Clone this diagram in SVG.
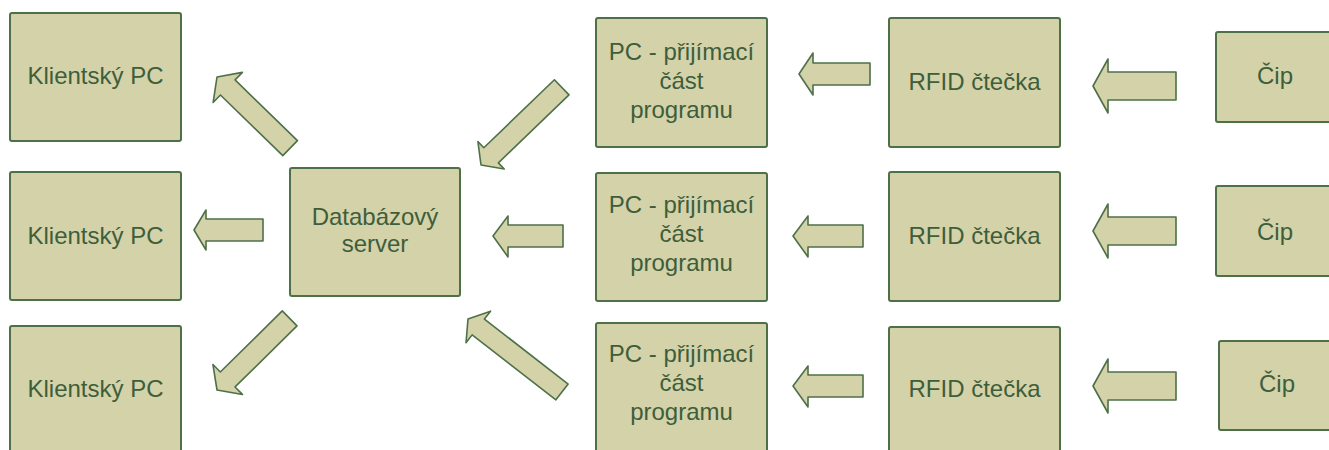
<svg xmlns="http://www.w3.org/2000/svg" width="1329" height="450" viewBox="0 0 1329 450">
<style>
.box{fill:#d4d2a9;stroke:#4e7049;stroke-width:2}
.arr{fill:#d4d2a9;stroke:#4e7049;stroke-width:1.6;stroke-linejoin:round}
text{font-family:"Liberation Sans",Arial,sans-serif;font-size:24px;fill:#3e5e3b;text-anchor:middle}
</style>
<rect width="1329" height="450" fill="#ffffff"/>
<g id="klient1"><rect class="box" x="10" y="13" width="171" height="128" rx="2"/><text x="95.5" y="84">Klientský PC</text></g>
<g id="klient2"><rect class="box" x="10" y="172" width="171" height="128" rx="2"/><text x="95.5" y="244">Klientský PC</text></g>
<g id="klient3"><rect class="box" x="10" y="326" width="171" height="130" rx="2"/><text x="95.5" y="397">Klientský PC</text></g>
<g id="db"><rect class="box" x="290" y="168" width="170" height="128" rx="2"/><text x="375" y="225">Databázový</text><text x="375" y="252">server</text></g>
<g id="pc1"><rect class="box" x="596" y="18" width="171" height="129" rx="2"/><text x="681.5" y="60">PC - přijímací</text><text x="681.5" y="89">část</text><text x="681.5" y="118">programu</text></g>
<g id="pc2"><rect class="box" x="596" y="173" width="171" height="128" rx="2"/><text x="681.5" y="213">PC - přijímací</text><text x="681.5" y="242">část</text><text x="681.5" y="271">programu</text></g>
<g id="pc3"><rect class="box" x="596" y="323" width="171" height="132" rx="2"/><text x="681.5" y="362">PC - přijímací</text><text x="681.5" y="391">část</text><text x="681.5" y="420">programu</text></g>
<g id="rfid1"><rect class="box" x="889" y="18" width="171" height="129" rx="2"/><text x="974.5" y="90">RFID čtečka</text></g>
<g id="rfid2"><rect class="box" x="889" y="172" width="171" height="129" rx="2"/><text x="974.5" y="244">RFID čtečka</text></g>
<g id="rfid3"><rect class="box" x="889" y="327" width="171" height="130" rx="2"/><text x="974.5" y="397">RFID čtečka</text></g>
<g id="cip1"><rect class="box" x="1216" y="32" width="125" height="90" rx="2"/><text x="1275" y="84">Čip</text></g>
<g id="cip2"><rect class="box" x="1216" y="186" width="125" height="90" rx="2"/><text x="1275" y="240">Čip</text></g>
<g id="cip3"><rect class="box" x="1219" y="341" width="125" height="89" rx="2"/><text x="1277" y="392">Čip</text></g>
<g id="connectors">
<polygon class="arr" points="1093,86 1108,59 1108,72 1176,72 1176,100 1108,100 1108,113"/>
<polygon class="arr" points="1093,231 1108,204 1108,217 1176,217 1176,245 1108,245 1108,258"/>
<polygon class="arr" points="1093,386 1108,359 1108,372 1176,372 1176,400 1108,400 1108,413"/>
<polygon class="arr" points="799,74 813,53 813,63 870,63 870,85 813,85 813,95"/>
<polygon class="arr" points="793,236 808,216 808,225 863,225 863,247 808,247 808,257"/>
<polygon class="arr" points="793,386 808,366 808,375 863,375 863,397 808,397 808,407"/>
<polygon class="arr" points="493,236 508,216 508,225 563,225 563,247 508,247 508,257"/>
<polygon class="arr" points="194,230 206,210 206,219 263,219 263,241 206,241 206,250"/>
<polygon class="arr" transform="translate(217,77) rotate(44.2)" points="0,0 15,-21 15,-10.5 102,-10.5 102,10.5 15,10.5 15,21"/>
<polygon class="arr" transform="translate(217,390) rotate(-44.6)" points="0,0 15,-21 15,-10.5 102,-10.5 102,10.5 15,10.5 15,21"/>
<polygon class="arr" transform="translate(481,165) rotate(-43.9)" points="0,0 14,-19 14,-10.5 112,-10.5 112,10.5 14,10.5 14,19"/>
<polygon class="arr" transform="translate(468,319) rotate(37.8)" points="0,0 13,-20 13,-10 119,-10 119,10 13,10 13,20"/>
</g>
</svg>
